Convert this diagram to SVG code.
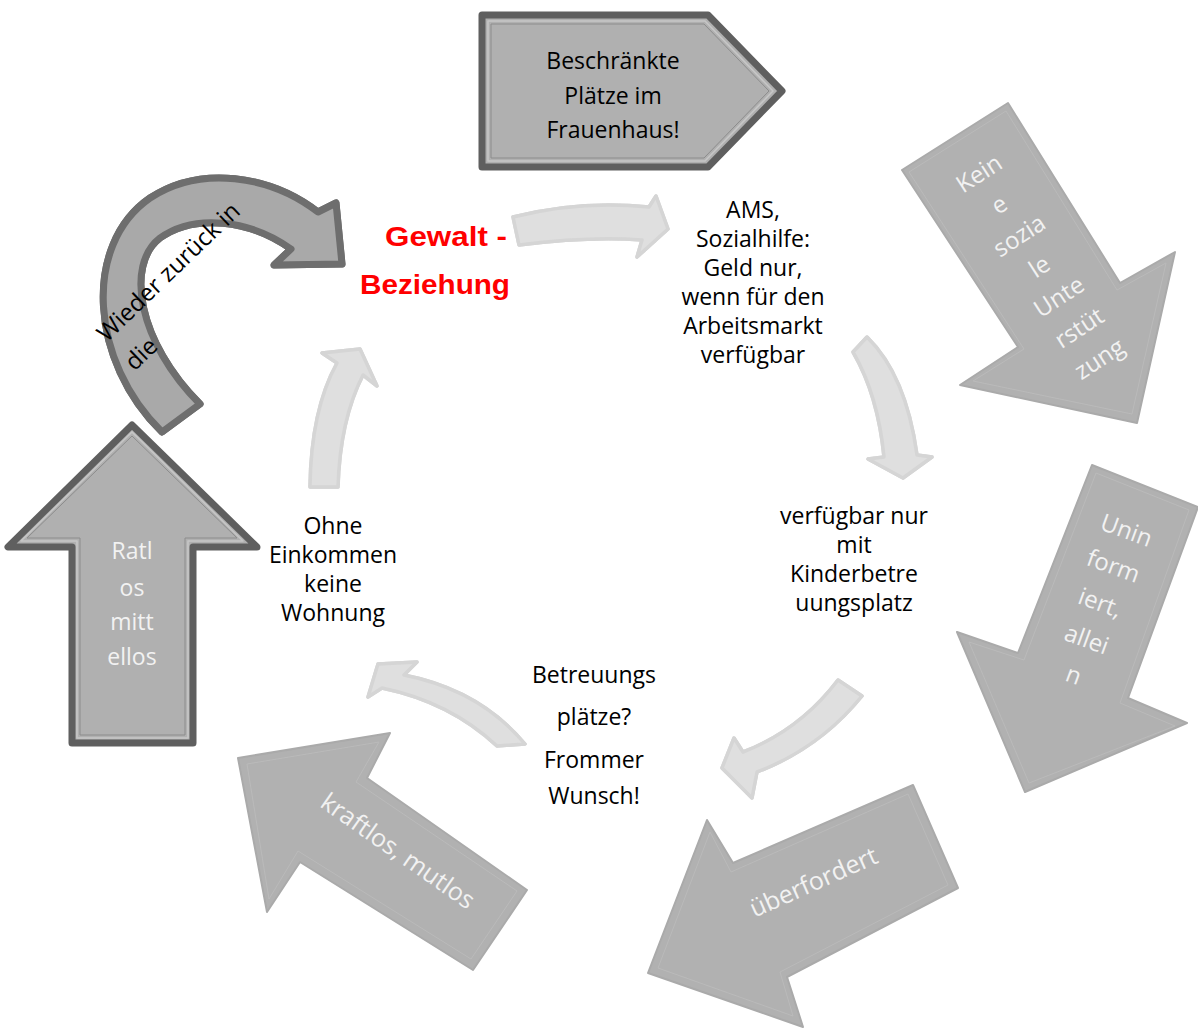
<svg xmlns="http://www.w3.org/2000/svg" xmlns:xlink="http://www.w3.org/1999/xlink" width="1198" height="1030" viewBox="0 0 1198 1030">
<style>
.lt{fill:#dfdfdf;stroke:#d5d5d5;stroke-width:3.5;stroke-linejoin:round}
.ltl{fill:none;stroke:#ffffff;stroke-width:1.3;stroke-linejoin:round}
.md{fill:#b1b1b1;stroke:#aaaaaa;stroke-width:2;stroke-linejoin:round}
.mdl{fill:none;stroke:#bababa;stroke-width:1;stroke-linejoin:round}
.dk{fill:#b0b0b0;stroke:#5f5f5f;stroke-width:7;stroke-linejoin:round}
.dkl{fill:none;stroke:#c6c6c6;stroke-width:1.6;stroke-linejoin:round}
.dkm{fill:none;stroke:#8c8c8c;stroke-width:1;stroke-linejoin:round}
.t{font-family:"Open Sans","Noto Sans","DejaVu Sans",sans-serif;font-size:23px;text-anchor:middle;fill:#000}
.w{fill:#f2f2f2}
.r{font-family:"Liberation Sans",Arial,sans-serif;font-weight:bold;font-size:28px;fill:#ff0000;text-anchor:middle}
</style>
<rect width="1198" height="1030" fill="#ffffff"/>

<g id="connectors">
  <path id="c1" class="lt" d="M513,217 Q580,200 649,207 L656,196 L668,229 L637,257 L642,240 Q590,236 519,245 Z"/>
  <use xlink:href="#c1" href="#c1" class="ltl"/>
  <path id="c2" class="lt" d="M853,352 L867,337 Q906,375 917,455 L932,457 L903,478 L868,459 L884,457 Q878,395 853,352 Z"/>
  <use xlink:href="#c2" href="#c2" class="ltl"/>
  <path id="c3" class="lt" d="M838,680 L862,696 Q820,748 757,772 L752,798 L722,768 L734,738 L743,752 Q800,730 838,680 Z"/>
  <use xlink:href="#c3" href="#c3" class="ltl"/>
  <path id="c4" class="lt" d="M525,744 L497,746 Q450,702 382,688 L368,697 L378,664 L417,662 L404,675 Q480,690 525,744 Z"/>
  <use xlink:href="#c4" href="#c4" class="ltl"/>
  <path id="c5" class="lt" d="M310,487 Q311,410 337,363 L322,353 L360,349 L377,386 L363,375 Q340,420 338,487 Z"/>
  <use xlink:href="#c5" href="#c5" class="ltl"/>
</g>

<g id="frauenhaus">
  <path class="dk" d="M482,15 L708,15 L782,91 L708,167 L482,167 Z"/>
  <path class="dkl" d="M488,21 L705,21 L773,91 L705,161 L488,161 Z"/>
  <path class="dkm" d="M491,24 L704,24 L769,91 L704,158 L491,158 Z"/>
  <text class="t" x="613" y="69">Beschränkte</text>
  <text class="t" x="613" y="104">Plätze im</text>
  <text class="t" x="613" y="138">Frauenhaus!</text>
</g>

<g id="gewalt">
  <text class="r" x="446" y="246" textLength="122" lengthAdjust="spacingAndGlyphs">Gewalt -</text>
  <text class="r" x="435" y="294" textLength="150" lengthAdjust="spacingAndGlyphs">Beziehung</text>
</g>

<g id="ams">
  <text class="t" x="753" y="218">AMS,</text>
  <text class="t" x="753" y="247">Sozialhilfe:</text>
  <text class="t" x="753" y="276">Geld nur,</text>
  <text class="t" x="753" y="305">wenn für den</text>
  <text class="t" x="753" y="334">Arbeitsmarkt</text>
  <text class="t" x="753" y="363">verfügbar</text>
</g>

<g id="kinder">
  <text class="t" x="854" y="524">verfügbar nur</text>
  <text class="t" x="854" y="553">mit</text>
  <text class="t" x="854" y="582">Kinderbetre</text>
  <text class="t" x="854" y="611">uungsplatz</text>
</g>

<g id="betreuung">
  <text class="t" x="594" y="683">Betreuungs</text>
  <text class="t" x="594" y="725">plätze?</text>
  <text class="t" x="594" y="768">Frommer</text>
  <text class="t" x="594" y="804">Wunsch!</text>
</g>

<g id="wohnung">
  <text class="t" x="333" y="534">Ohne</text>
  <text class="t" x="333" y="563">Einkommen</text>
  <text class="t" x="333" y="592">keine</text>
  <text class="t" x="333" y="621">Wohnung</text>
</g>

<g id="keine-unterstuetzung">
  <path class="md" d="M902,170 L1008,103 L1120,283 L1175,252 L1137,423 L960,385 L1018,347 Z"/>
  <path class="mdl" d="M909,172 L1006,111 L1117,290 L1166,263 L1132,414 L973,381 L1024,349 Z"/>
  <g transform="translate(1039,266) rotate(-33)" style="font-size:24px">
    <text class="t w" style="font-size:24px" x="0" y="-102">Kein</text>
    <text class="t w" style="font-size:24px" x="0" y="-65">e</text>
    <text class="t w" style="font-size:24px" x="0" y="-28">sozia</text>
    <text class="t w" style="font-size:24px" x="0" y="9">le</text>
    <text class="t w" style="font-size:24px" x="0" y="45">Unte</text>
    <text class="t w" style="font-size:24px" x="0" y="82">rstüt</text>
    <text class="t w" style="font-size:24px" x="0" y="119">zung</text>
  </g>
</g>

<g id="uninformiert">
  <path class="md" d="M1092,465 L1198,507 L1128,698 L1187,723 L1025,792 L957,632 L1018,653 Z"/>
  <path class="mdl" d="M1096,473 L1189,510 L1120,703 L1175,726 L1029,783 L969,642 L1024,660 Z"/>
  <g transform="translate(1100,603) rotate(20)">
    <text class="t w" style="font-size:24px" x="0" y="-69">Unin</text>
    <text class="t w" style="font-size:24px" x="0" y="-31">form</text>
    <text class="t w" style="font-size:24px" x="0" y="8">iert,</text>
    <text class="t w" style="font-size:24px" x="0" y="47">allei</text>
    <text class="t w" style="font-size:24px" x="0" y="85">n</text>
  </g>
</g>

<g id="ueberfordert">
  <path class="md" d="M913,785 L958,888 L787,977 L803,1027 L648,973 L707,820 L733,863 Z"/>
  <path class="mdl" d="M908,794 L948,885 L780,972 L793,1016 L658,968 L710,832 L731,872 Z"/>
  <text class="t w" transform="translate(817,890) rotate(-24)" x="0" y="0" style="font-size:25px">überfordert</text>
</g>

<g id="kraftlos">
  <path class="md" d="M238,758 L390,733 L367,778 L527,890 L473,970 L300,862 L267,912 Z"/>
  <path class="mdl" d="M247,764 L379,742 L356,782 L517,891 L471,959 L298,851 L269,899 Z"/>
  <text class="t w" transform="translate(393,858) rotate(35)" x="0" y="0" style="font-size:25px">kraftlos, mutlos</text>
</g>

<g id="ratlos">
  <path class="dk" d="M132,425 L8,547 L72,547 L72,743 L193,743 L193,547 L257,547 Z"/>
  <path class="dkl" d="M132,432 L21,541 L77,541 L77,738 L188,738 L188,541 L243,541 Z"/>
  <path class="dkm" d="M132,436 L27,538 L80,538 L80,735 L185,735 L185,538 L237,538 Z"/>
  <text class="t w" x="132" y="559">Ratl</text>
  <text class="t w" x="132" y="596">os</text>
  <text class="t w" x="132" y="630">mitt</text>
  <text class="t w" x="132" y="665">ellos</text>
</g>

<g id="wieder-zurueck">
  <path id="cv" class="dk" style="fill:#a9a9a9;stroke:#6e6e6e;stroke-width:7" d="M162,432 C90,362 82,245 150,198 C200,165 270,175 318,212 L336,203 L342,264 L274,265 L291,249 C250,220 195,213 160,238 C125,265 138,342 200,404 Z"/>
  <use xlink:href="#cv" href="#cv" class="dkl"/>
  <g transform="translate(176,265) rotate(-44)">
    <text class="t" x="-104" y="8" style="text-anchor:start;font-size:24px">Wieder zurück in</text>
    <text class="t" x="-104" y="48" style="text-anchor:start;font-size:24px">die</text>
  </g>
</g>
</svg>
